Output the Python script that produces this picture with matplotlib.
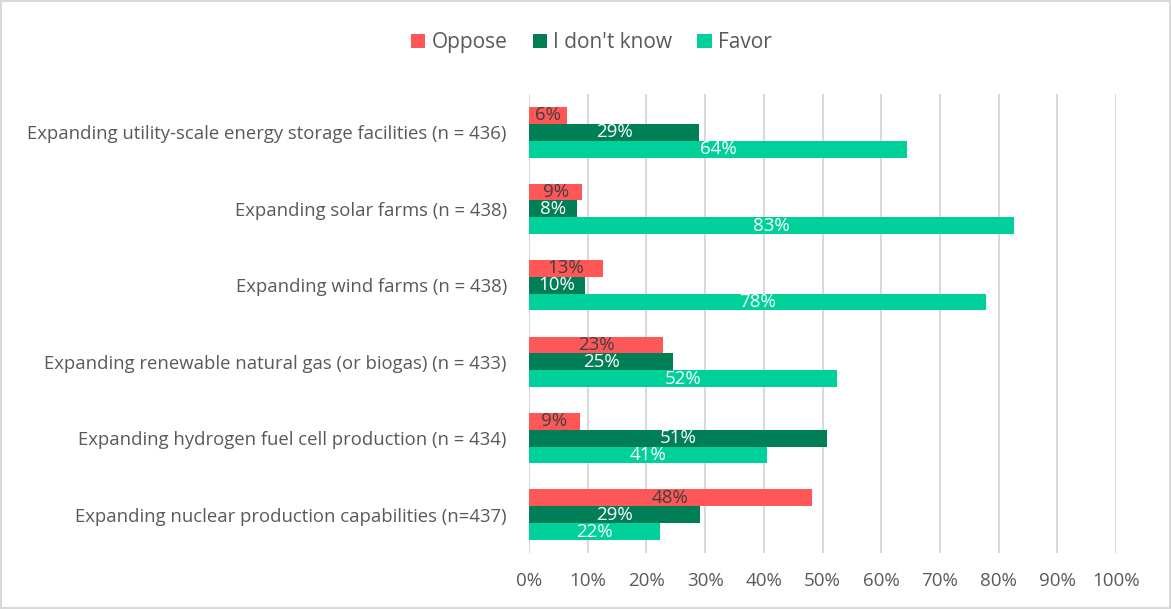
import matplotlib.pyplot as plt
import numpy as np

plt.rcParams['font.family'] = ['Open Sans', 'DejaVu Sans']

categories = [
    "Expanding utility-scale energy storage facilities (n = 436)",
    "Expanding solar farms (n = 438)",
    "Expanding wind farms (n = 438)",
    "Expanding renewable natural gas (or biogas) (n = 433)",
    "Expanding hydrogen fuel cell production (n = 434)",
    "Expanding nuclear production capabilities (n=437)",
]
oppose = [6.4, 9.1, 12.6, 22.8, 8.6, 48.2]
dont_know = [29.0, 8.1, 9.6, 24.6, 50.8, 29.2]
favor = [64.4, 82.7, 77.8, 52.4, 40.6, 22.3]

series = [
    ("Oppose", oppose, "#FF5757", "#404040"),
    ("I don't know", dont_know, "#007F56", "white"),
    ("Favor", favor, "#00D19B", "white"),
]

fig = plt.figure(figsize=(11.71, 6.09), dpi=100)
fig.patch.set_edgecolor("#D9D9D9")
fig.patch.set_linewidth(1.5)
ax = fig.add_axes([0.4518, 0.092, 0.5012, 0.7536])

y = np.arange(len(categories))
h = 0.22
for i, (name, vals, color, tcolor) in enumerate(series):
    pos = y + (i - 1) * h
    bars = ax.barh(pos, vals, height=h, color=color, label=name, zorder=3)
    for b, v in zip(bars, vals):
        ax.text(b.get_width() / 2, b.get_y() + h / 2, f"{round(v)}%",
                ha="center", va="center", fontsize=13.5, color=tcolor, zorder=4)

ax.set_ylim(len(categories) - 0.5, -0.5)
ax.set_xlim(0, 100)
ax.set_xticks(np.arange(0, 101, 10))
ax.set_xticklabels([f"{t}%" for t in range(0, 101, 10)])
ax.set_yticks(y)
ax.set_yticklabels(categories)
ax.grid(axis="x", color="#D9D9D9", linewidth=1.5, zorder=0)
for s in ax.spines.values():
    s.set_visible(False)
ax.tick_params(axis="both", length=0, labelcolor="#595959")
ax.tick_params(axis="x", pad=14, labelsize=13.5)
ax.tick_params(axis="y", pad=16, labelsize=13.3)

fig.legend(loc="center", bbox_to_anchor=(0.505, 0.93), ncol=3, frameon=False,
           fontsize=15, labelcolor="#595959", handlelength=0.7, handleheight=0.7,
           handletextpad=0.3, columnspacing=1.2)

fig.savefig("out.png", dpi=100)
